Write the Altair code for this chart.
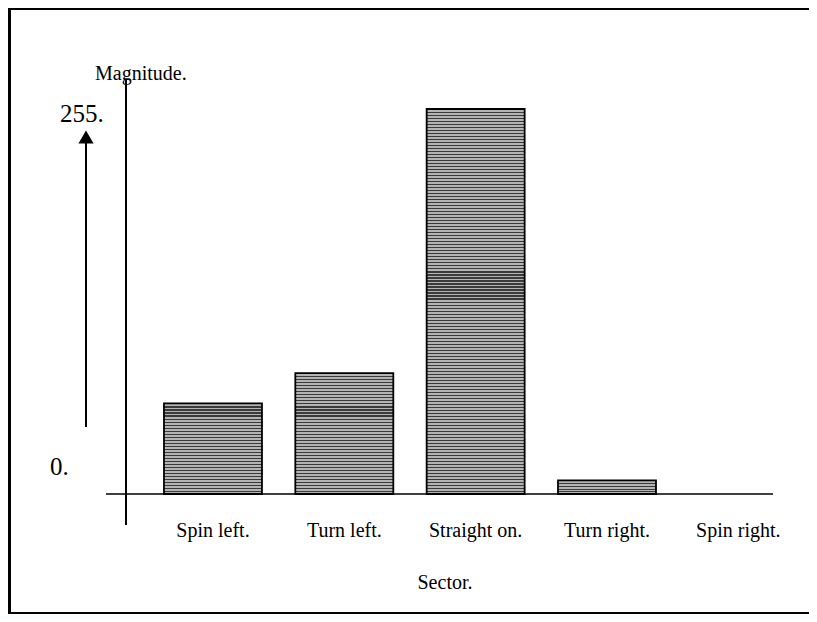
import altair as alt
import pandas as pd

# ---- data ----
sectors = ["Spin left.", "Turn left.", "Straight on.", "Turn right.", "Spin right."]
magnitude = [60, 80, 255, 9, 0]
y_tick_labels = ["0.", "255."]
y_tick_values = [0, 255]
y_title = "Magnitude."
x_title = "Sector."

# ---- layout (view pixels) ----
W, H = 801, 606
BASE_VY = 486      # pixel of value 0
TOP_VY = 101       # pixel of value 255
k = (BASE_VY - TOP_VY) / 255.0
d0 = -(H - BASE_VY) / k
d1 = d0 + H / k

STEP = 133.0
X0 = 202.5
xd0 = -X0 / STEP
xd1 = xd0 + W / STEP

FONT = "Liberation Serif"

df = pd.DataFrame({
    "sector": sectors,
    "magnitude": magnitude,
    "slot": list(range(len(sectors))),
    "base": [0] * len(sectors),
})

xscale = alt.Scale(domain=[xd0, xd1], nice=False, zero=False)
yscale = alt.Scale(domain=[d0, d1], nice=False, zero=False)

X = alt.X("slot:Q", scale=xscale, axis=None)


def stripes(h_px):
    n = max(1, round(h_px / 3.0))
    stops = []
    dark, light = "#3a3a3a", "#b4b4b4"
    for i in range(n):
        a = i / n
        b = (i + 0.36) / n
        c = (i + 1) / n
        stops += [
            alt.GradientStop(offset=a, color=dark),
            alt.GradientStop(offset=b, color=dark),
            alt.GradientStop(offset=b, color=light),
            alt.GradientStop(offset=c, color=light),
        ]
    return alt.LinearGradient(gradient="linear", stops=stops, x1=0, x2=0, y1=0, y2=1)


layers = []

for s, v in zip(sectors, magnitude):
    if v <= 0:
        continue
    sub = df[df["sector"] == s]
    layers.append(
        alt.Chart(sub).mark_bar(fill=stripes(v * k), stroke="black", strokeWidth=1.8, width=98).encode(
            x=X,
            y=alt.Y("magnitude:Q", scale=yscale, axis=None),
            y2=alt.Y2("base:Q"),
        )
    )

deco = pd.DataFrame({"base": [0]})

# baseline (x axis)
layers.append(
    alt.Chart(deco).mark_rule(color="black", strokeWidth=1.6).encode(
        y=alt.Y("base:Q", scale=yscale, axis=None), x=alt.value(98), x2=alt.value(765)
    )
)
# vertical axis
layers.append(
    alt.Chart(deco).mark_rule(color="black", strokeWidth=2).encode(
        x=alt.value(118), y=alt.value(72), y2=alt.value(517)
    )
)
# arrow shaft
layers.append(
    alt.Chart(deco).mark_rule(color="black", strokeWidth=2).encode(
        x=alt.value(78), y=alt.value(134), y2=alt.value(419)
    )
)
# arrow head
layers.append(
    alt.Chart(deco).mark_point(
        shape="triangle-up", filled=True, color="black", size=230, opacity=1
    ).encode(x=alt.value(78), y=alt.value(129))
)
# border
layers.append(
    alt.Chart(deco).mark_rule(color="black", strokeWidth=2).encode(
        x=alt.value(0), x2=alt.value(W), y=alt.value(1)
    )
)
layers.append(
    alt.Chart(deco).mark_rule(color="black", strokeWidth=3).encode(
        x=alt.value(1.5), y=alt.value(0), y2=alt.value(H)
    )
)
layers.append(
    alt.Chart(deco).mark_rule(color="black", strokeWidth=2).encode(
        x=alt.value(0), x2=alt.value(W), y=alt.value(H - 1)
    )
)

# category labels
layers.append(
    alt.Chart(df).mark_text(font=FONT, fontSize=20, color="black", baseline="alphabetic").encode(
        x=X, y=alt.value(529), text="sector:N"
    )
)
# y tick labels
ticks = pd.DataFrame({"v": y_tick_values, "t": y_tick_labels})
layers.append(
    alt.Chart(ticks[ticks["v"] == 255]).mark_text(
        font=FONT, fontSize=25, color="black", align="left", baseline="alphabetic", dy=13
    ).encode(x=alt.value(52), y=alt.Y("v:Q", scale=yscale, axis=None), text="t:N")
)
layers.append(
    alt.Chart(ticks[ticks["v"] == 0]).mark_text(
        font=FONT, fontSize=25, color="black", align="left", baseline="alphabetic", dy=-19
    ).encode(x=alt.value(42), y=alt.Y("v:Q", scale=yscale, axis=None), text="t:N")
)
# titles
layers.append(
    alt.Chart(pd.DataFrame({"t": [y_title]})).mark_text(
        font=FONT, fontSize=20, color="black", align="left", baseline="alphabetic"
    ).encode(x=alt.value(87), y=alt.value(72), text="t:N")
)
layers.append(
    alt.Chart(pd.DataFrame({"t": [x_title]})).mark_text(
        font=FONT, fontSize=20, color="black", align="center", baseline="alphabetic"
    ).encode(x=alt.value(437), y=alt.value(581), text="t:N")
)

chart = (
    alt.layer(*layers)
    .properties(width=W, height=H, autosize=alt.AutoSizeParams(type="none"), padding=0, background="white")
    .configure_view(stroke=None)
)

chart.save("out.html", embed_options={"renderer": "svg", "actions": False})
